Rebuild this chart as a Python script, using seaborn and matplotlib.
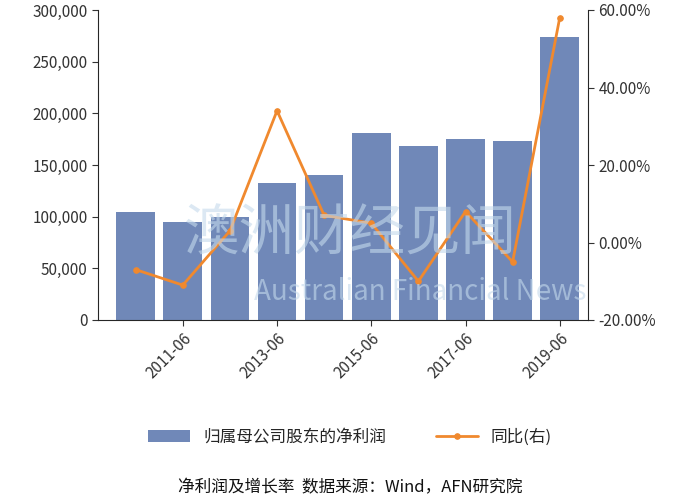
import matplotlib
matplotlib.use("Agg")
import matplotlib.pyplot as plt
import seaborn as sns
import pandas as pd
from matplotlib.ticker import FuncFormatter

periods = ["2010-06","2011-06","2012-06","2013-06","2014-06","2015-06","2016-06","2017-06","2018-06","2019-06"]
profit = [105000, 95000, 100000, 133000, 140000, 181000, 168000, 175000, 173000, 274000]
yoy = [-7.0, -11.0, 3.0, 34.0, 7.0, 5.0, -10.0, 8.0, -5.0, 58.0]
tick_labels = ["2011-06","2013-06","2015-06","2017-06","2019-06"]

sns.set_style("white")
plt.rcParams['font.family'] = ['Noto Sans CJK SC', 'DejaVu Sans']

fig = plt.figure(figsize=(7, 5), dpi=100)
ax = fig.add_axes([0.14, 0.36, 0.70, 0.62])
df = pd.DataFrame({"period": periods, "profit": profit, "yoy": yoy})
sns.barplot(data=df, x="period", y="profit", color="#7088B8", saturation=1, width=0.82, linewidth=0, ax=ax, label="归属母公司股东的净利润")
ax.set_ylim(0, 300000)
ax.set_yticks(range(0, 300001, 50000))
ax.yaxis.set_major_formatter(FuncFormatter(lambda v, p: f"{int(v):,}"))
ax.set_xticks([periods.index(t) for t in tick_labels])
ax.set_xticklabels(tick_labels, rotation=45, ha="right", rotation_mode="anchor")
ax.set_xlim(-0.8, 9.6)
ax.set_xlabel(""); ax.set_ylabel("")
for s in ["top", "right"]:
    ax.spines[s].set_visible(False)
ax.tick_params(axis="both", length=4, direction="out", labelsize=11, colors="#333333", left=True, bottom=True)

ax2 = ax.twinx()
sns.lineplot(x=list(range(len(periods))), y=yoy, ax=ax2, color="#F0892E", marker="o", markersize=4,
             markeredgecolor="#F0892E", linewidth=2, label="同比(右)", legend=False)
ax2.set_ylim(-20, 60)
ax2.set_yticks(range(-20, 61, 20))
ax2.yaxis.set_major_formatter(FuncFormatter(lambda v, p: f"{v:.2f}%"))
ax2.tick_params(axis="y", length=4, direction="out", labelsize=11, colors="#333333", right=True)
for s in ["top", "left", "bottom"]:
    ax2.spines[s].set_visible(False)
ax2.set_xlim(-0.8, 9.6)

fig.text(0.5, 0.53, "澳洲财经见闻", fontsize=40, color="#C5DAEC", alpha=0.6, ha="center", va="center", zorder=10)
fig.text(0.6, 0.415, "Australian Financial News", fontsize=20, color="#C5DAEC", alpha=0.6, ha="center", va="center", zorder=10)

h1, l1 = ax.get_legend_handles_labels()
h2, l2 = ax2.get_legend_handles_labels()
if ax.get_legend():
    ax.get_legend().remove()
fig.legend(h1 + h2, l1 + l2, loc="center", bbox_to_anchor=(0.5, 0.125), ncol=2, frameon=False, fontsize=12, handlelength=2.5, columnspacing=3)
fig.text(0.5, 0.015, "净利润及增长率  数据来源：Wind，AFN研究院", ha="center", fontsize=12, color="#111111")
fig.savefig("out.png", dpi=100)
